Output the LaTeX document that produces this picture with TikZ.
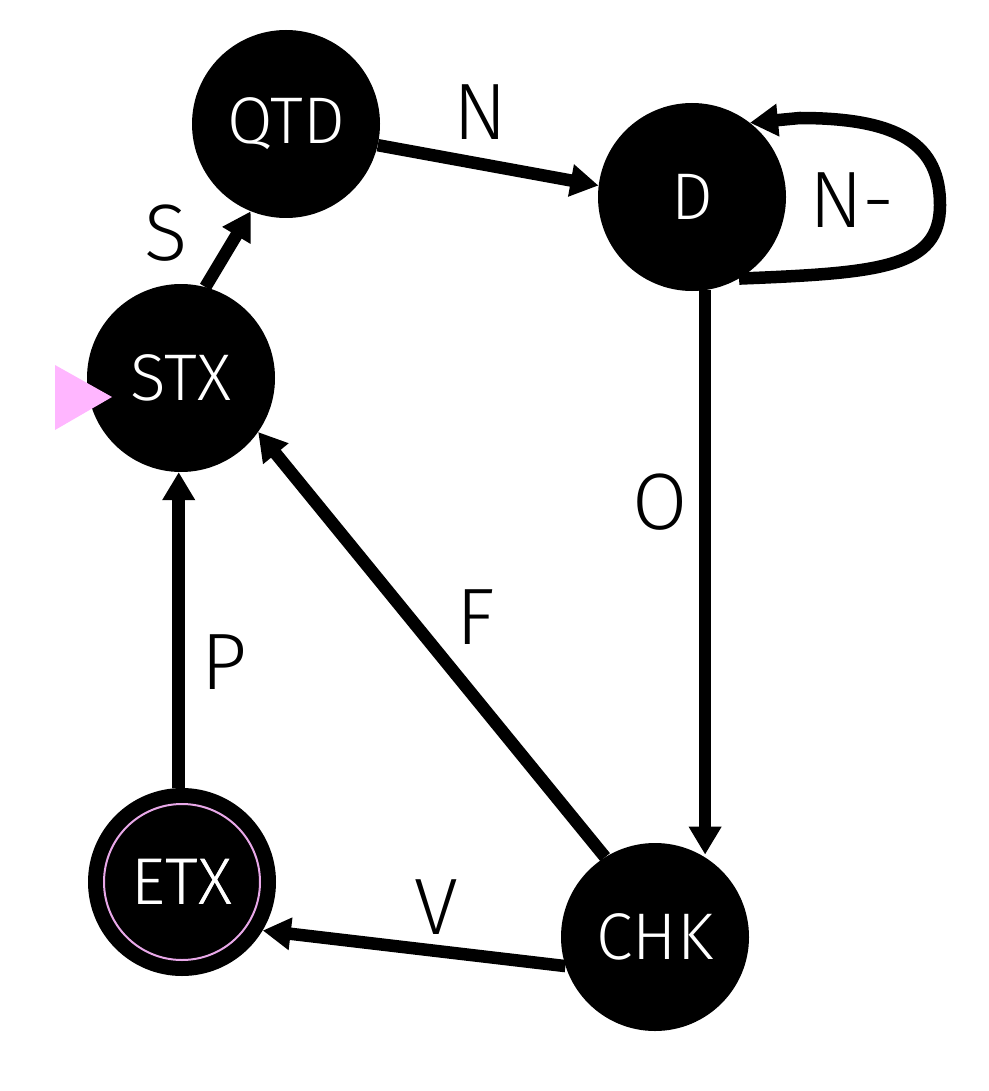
\documentclass[tikz,border=0pt]{standalone}
\usepackage{fontspec}
\setmainfont{Fira Sans Light}
\usetikzlibrary{arrows.meta,calc}
\definecolor{startpink}{RGB}{255,182,255}
\definecolor{acceptpink}{RGB}{232,168,232}
\begin{document}
\begin{tikzpicture}[x=1pt,y=-1pt,
  state/.style={circle,fill=black,minimum size=188pt,inner sep=0pt,text=white,font=\fontsize{66}{66}\selectfont},
  edge/.style={line width=12.5pt,-{Triangle[length=28pt,width=31pt]}},
  lbl/.style={font=\fontsize{80}{80}\selectfont,text=black}]
\useasboundingbox (0,0) rectangle (988,1091);
\node[state] (QTD) at (286,124) {QTD};
\node[state] (D) at (692,197) {D};
\node[state] (STX) at (181,378) {STX};
\node[state] (ETX) at (182,882) {ETX};
\node[state] (CHK) at (655,937) {CHK};
\draw[acceptpink,line width=2pt] (ETX.center) circle (78pt);
\node[text=white,font=\fontsize{66}{66}\selectfont] at (ETX.center) {ETX};
\fill[startpink] (55,365) -- (112,397) -- (55,430) -- cycle;
\draw[edge] (D.-60) .. controls (880,273) and (940,268) .. (940,205) .. controls (940,145) and (900,118) .. (800,118) -- (D.52);
\draw[edge] (STX.75) -- (QTD.248);
\draw[edge] (QTD.-13) -- (D.173);
\draw[edge] (D.-82) -- (D.-82 |- CHK.61);
\draw[edge] (CHK.122) -- (STX.-35);
\draw[edge] (CHK.198) -- (ETX.-31);
\draw[edge] (ETX.92) -- (ETX.92 |- STX.268);
\node[lbl] (lS) at (166,233) {S};
\node[lbl] (lN) at (480,112) {N};
\node[lbl] (lNm) at (852,200) {N-};
\node[lbl] (lO) at (660,502) {O};
\node[lbl] (lF) at (476,617) {F};
\node[lbl] (lP) at (224,662) {P};
\node[lbl] (lV) at (436,907) {V};
\end{tikzpicture}
\end{document}
